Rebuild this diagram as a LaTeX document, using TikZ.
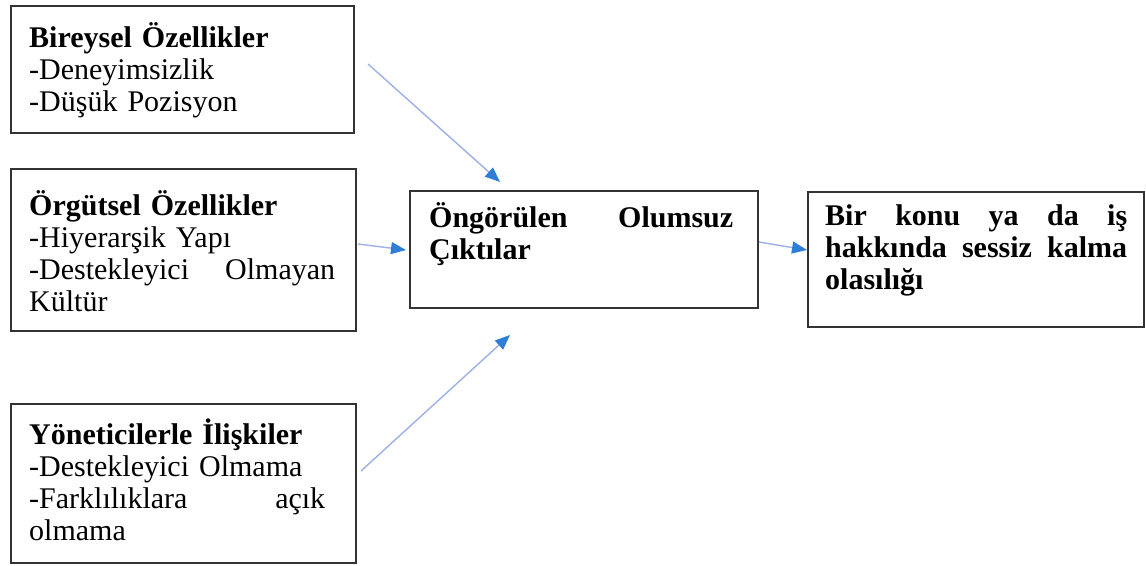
\documentclass[tikz,border=0pt]{standalone}
\usepackage{fontspec}
\setmainfont{Liberation Serif}
\usetikzlibrary{arrows.meta}
\definecolor{linec}{HTML}{9DB0E6}
\definecolor{headc}{HTML}{2E7ED6}
\definecolor{boxc}{HTML}{333333}
\tikzset{
  box/.style={draw=boxc, line width=1.8pt, inner sep=0pt, anchor=north west},
  txt/.style={anchor=north west, inner sep=0pt, align=left, font=\fontsize{30}{32}\selectfont},
  conn/.style={draw=linec, line width=1.4pt, -{Triangle[length=15pt,width=12pt,color=headc]}}
}
\newcommand{\fst}{\rule{0pt}{30pt}}
\begin{document}
\begin{tikzpicture}[x=1pt,y=-1pt]
\useasboundingbox (0,0) rectangle (1146,565);
% boxes
\node[box, minimum width=343pt, minimum height=127pt] (b1) at (10,5) {};
\node[box, minimum width=345pt, minimum height=162pt] (b2) at (10,168) {};
\node[box, minimum width=345pt, minimum height=159pt] (b3) at (10,403) {};
\node[box, minimum width=348pt, minimum height=117pt] (c) at (409,190) {};
\node[box, minimum width=336pt, minimum height=135pt] (r) at (807,191) {};
% texts
\node[txt, text width=306pt] (t1) at (29,17) {\fst\textbf{Bireysel Özellikler}\\-Deneyimsizlik\\-Düşük Pozisyon};
\node[txt, text width=306pt] (t2) at (29,185) {\fst\textbf{Örgütsel Özellikler}\\-Hiyerarşik Yapı\\-Destekleyici\hfill Olmayan\\Kültür};
\node[txt, text width=296pt] (t3) at (29,414) {\fst\textbf{Yöneticilerle İlişkiler}\\-Destekleyici Olmama\\-Farklılıklara\hfill açık\\olmama};
\node[txt, text width=304pt] (tc) at (429,197) {\fst\textbf{Öngörülen\hfill Olumsuz}\\\textbf{Çıktılar}};
\node[txt, text width=302pt] (tr) at (825,195) {\fst\textbf{Bir\hfill konu\hfill ya\hfill da\hfill iş}\\\textbf{hakkında\hfill sessiz\hfill kalma}\\\textbf{olasılığı}};
% connector end points
\coordinate (a1s) at (368,64);  \coordinate (a1e) at (500,182);
\coordinate (a2s) at (358,244); \coordinate (a2e) at (406,250);
\coordinate (a3s) at (361,471); \coordinate (a3e) at (510,335);
\coordinate (a4s) at (759,242); \coordinate (a4e) at (807,250);
\draw[conn] (a1s) -- (a1e);
\draw[conn] (a2s) -- (a2e);
\draw[conn] (a3s) -- (a3e);
\draw[conn] (a4s) -- (a4e);
\end{tikzpicture}
\end{document}
